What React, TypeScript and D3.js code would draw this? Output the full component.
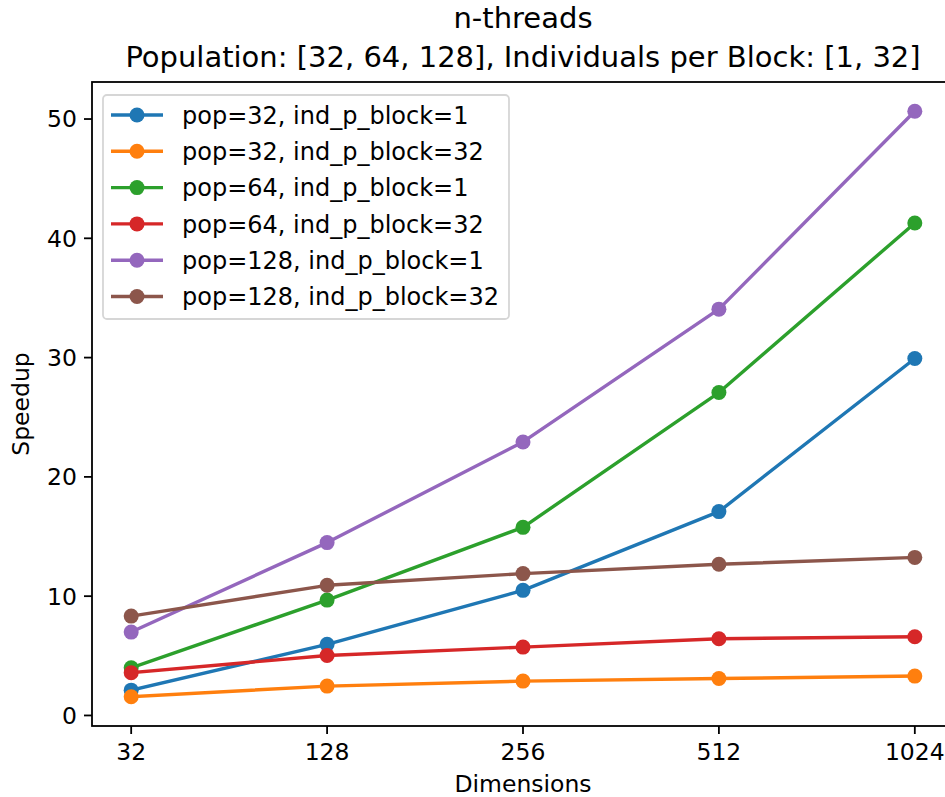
import React, { useEffect, useRef } from "react";
import * as d3 from "d3";

// Data
const dimensions = ["32", "128", "256", "512", "1024"];
const pop32Ind1 = [2.12, 5.96, 10.49, 17.09, 29.92];
const pop32Ind32 = [1.57, 2.46, 2.88, 3.1, 3.3];
const pop64Ind1 = [4.0, 9.67, 15.77, 27.07, 41.28];
const pop64Ind32 = [3.58, 5.03, 5.73, 6.43, 6.6];
const pop128Ind1 = [6.99, 14.49, 22.93, 34.06, 50.65];
const pop128Ind32 = [8.33, 10.91, 11.89, 12.67, 13.25];
const seriesLabels = [
  "pop=32, ind_p_block=1",
  "pop=32, ind_p_block=32",
  "pop=64, ind_p_block=1",
  "pop=64, ind_p_block=32",
  "pop=128, ind_p_block=1",
  "pop=128, ind_p_block=32",
];
const yTicks = [0, 10, 20, 30, 40, 50];

const W = 945;
const H = 797;
const FONT = "DejaVu Sans, sans-serif";

const App = () => {
  const svgRef = useRef<SVGSVGElement>(null);

  useEffect(() => {
    const values = [pop32Ind1, pop32Ind32, pop64Ind1, pop64Ind32, pop128Ind1, pop128Ind32];
    const colors = d3.schemeCategory10;

    const left = 92, right = 954, top = 82, bottom = 726;

    const svg = d3.select(svgRef.current);
    svg.selectAll("*").remove();
    svg.attr("width", W).attr("height", H);

    svg.append("rect").attr("width", W).attr("height", H).attr("fill", "white");

    // scales (matplotlib-style 5% margins)
    const x = d3.scaleLinear().domain([-0.2, dimensions.length - 1 + 0.2]).range([left, right]);
    const allV = values.flat();
    const vMin = d3.min(allV)!, vMax = d3.max(allV)!;
    const pad = (vMax - vMin) * 0.05;
    const y = d3.scaleLinear().domain([vMin - pad, vMax + pad]).range([bottom, top]);

    // series
    const line = d3.line<number>().x((_, i) => x(i)).y((d) => y(d));
    values.forEach((vals, s) => {
      const g = svg.append("g");
      g.append("path")
        .attr("d", line(vals))
        .attr("fill", "none")
        .attr("stroke", colors[s])
        .attr("stroke-width", 3.4)
        .attr("stroke-linejoin", "round")
        .attr("stroke-linecap", "square");
      g.selectAll("circle")
        .data(vals)
        .enter()
        .append("circle")
        .attr("cx", (_, i) => x(i))
        .attr("cy", (d) => y(d))
        .attr("r", 7.5)
        .attr("fill", colors[s]);
    });

    // spines
    const spine = svg.append("g").attr("stroke", "black").attr("stroke-width", 1.8).attr("fill", "none");
    spine.append("rect").attr("x", left).attr("y", top).attr("width", right - left).attr("height", bottom - top);

    // x ticks
    const xt = svg.append("g");
    dimensions.forEach((d, i) => {
      xt.append("line")
        .attr("x1", x(i)).attr("x2", x(i))
        .attr("y1", bottom).attr("y2", bottom + 8)
        .attr("stroke", "black").attr("stroke-width", 1.8);
      xt.append("text")
        .attr("x", x(i)).attr("y", bottom + 34)
        .attr("text-anchor", "middle")
        .style("font-family", FONT).style("font-size", "23.5px")
        .text(d);
    });

    // y ticks
    const yt = svg.append("g");
    yTicks.forEach((t) => {
      yt.append("line")
        .attr("x1", left - 8).attr("x2", left)
        .attr("y1", y(t)).attr("y2", y(t))
        .attr("stroke", "black").attr("stroke-width", 1.8);
      yt.append("text")
        .attr("x", left - 15).attr("y", y(t))
        .attr("dy", "0.36em")
        .attr("text-anchor", "end")
        .style("font-family", FONT).style("font-size", "23.5px")
        .text(t);
    });

    // axis labels
    svg.append("text")
      .attr("x", (left + right) / 2).attr("y", 792)
      .attr("text-anchor", "middle")
      .style("font-family", FONT).style("font-size", "23.5px")
      .text("Dimensions");
    svg.append("text")
      .attr("transform", `translate(29, ${(top + bottom) / 2}) rotate(-90)`)
      .attr("text-anchor", "middle")
      .style("font-family", FONT).style("font-size", "23.5px")
      .text("Speedup");

    // title
    const title = svg.append("text")
      .attr("text-anchor", "middle")
      .style("font-family", FONT).style("font-size", "29px");
    title.append("tspan").attr("x", (left + right) / 2).attr("y", 28).text("n-threads");
    title.append("tspan").attr("x", (left + right) / 2).attr("y", 67)
      .text("Population: [32, 64, 128], Individuals per Block: [1, 32]");

    // legend
    const lg = svg.append("g");
    lg.append("rect")
      .attr("x", 103).attr("y", 95)
      .attr("width", 406).attr("height", 224)
      .attr("rx", 4)
      .attr("fill", "white").attr("fill-opacity", 0.8)
      .attr("stroke", "#d6d6d6").attr("stroke-width", 1.8);
    seriesLabels.forEach((label, i) => {
      const cy = 115 + i * 36.3;
      lg.append("line")
        .attr("x1", 111).attr("x2", 163)
        .attr("y1", cy).attr("y2", cy)
        .attr("stroke", colors[i]).attr("stroke-width", 3.4);
      lg.append("circle").attr("cx", 137).attr("cy", cy).attr("r", 7.5).attr("fill", colors[i]);
      lg.append("text")
        .attr("x", 182).attr("y", cy)
        .attr("dy", "0.36em")
        .style("font-family", FONT).style("font-size", "24px")
        .text(label);
    });
  }, []);

  return (
    <div style={{ position: "absolute", left: 0, top: 0 }}>
      <svg ref={svgRef} style={{ display: "block" }}></svg>
    </div>
  );
};

export default App;
